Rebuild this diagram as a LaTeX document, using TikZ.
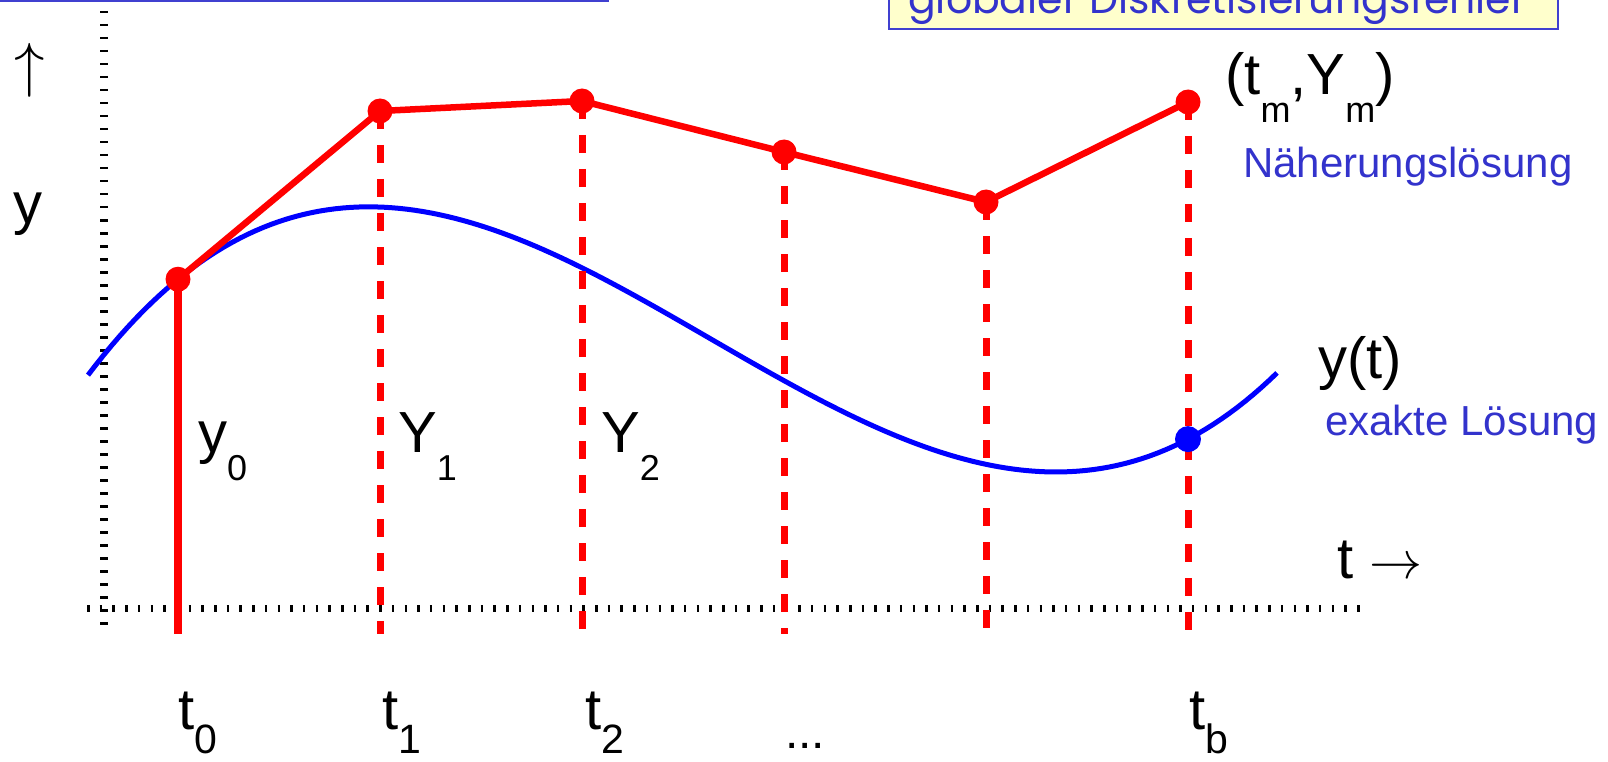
\documentclass[tikz,border=0pt]{standalone}
\usepackage{fontspec}
\setmainfont{Liberation Sans}
\newfontfamily\notefont{Poppins}
\usetikzlibrary{positioning}
\definecolor{ApproxRed}{HTML}{FF0000}
\definecolor{ExactBlue}{HTML}{0000FF}
\definecolor{LabelBlue}{HTML}{3333CC}
\definecolor{NoteFill}{HTML}{FFFFCC}
\definecolor{NoteEdge}{HTML}{4040D0}
\newcommand{\lsub}[1]{\raisebox{-28pt}{\fontsize{36}{36}\selectfont #1}}
\newcommand{\tsub}[1]{\raisebox{-24pt}{\fontsize{41}{41}\selectfont #1}}

\begin{document}
\begin{tikzpicture}[x=1pt,y=-1pt,
  declare function={u(\t)=(\t-364)/100; m(\t)=max(0,(600-\t)/100);
    ex(\t)=205-4.834*(u(\t)*u(\t)*u(\t)/3-3.46*u(\t)*u(\t))+0.337*m(\t)*m(\t);},
  big/.style={inner sep=0pt,anchor=base west,font=\fontsize{58}{60}\selectfont},
  bluelabel/.style={inner sep=0pt,anchor=base west,text=LabelBlue,font=\fontsize{42}{44}\selectfont},
  reddot/.style={circle,fill=ApproxRed,inner sep=0pt,minimum size=25pt},
  bluedot/.style={circle,fill=ExactBlue,inner sep=0pt,minimum size=26pt},
  approx/.style={ApproxRed,line width=6.5pt,line join=round},
  gridline/.style={ApproxRed,line width=7pt,dash pattern=on 18pt off 16pt},
  axisdots/.style={black,line width=7pt,dash pattern=on 2.5pt off 10.2pt}]
\useasboundingbox (0,0) rectangle (1608,762);
\clip (0,0) rectangle (1608,762);

% boxes cut off at the top edge
\draw[NoteEdge,line width=2.5pt] (-10,-40) rectangle (608,1);
\draw[NoteEdge,fill=NoteFill,line width=2.5pt] (889,-40) rectangle (1558,29);
\node[inner sep=0pt,anchor=base west,text=LabelBlue,font=\notefont\fontsize{41}{43}\selectfont] (note) at (908,14) {globaler Diskretisierungsfehler};

% axes
\coordinate (ytop) at (104,11);
\coordinate (ybot) at (104,634);
\draw[axisdots,line width=8pt,dash pattern=on 2.5pt off 10.5pt] (ytop) -- (ybot);
\coordinate (tleft) at (87,608);
\coordinate (tright) at (1368,608);
\draw[axisdots] (tleft) -- (tright);

% exact solution
\draw[ExactBlue,line width=5pt] plot[domain=88:1277,samples=150] (\x,{ex(\x)});

% grid points and approximation
\coordinate (p0) at (178,{ex(178)});
\coordinate (p1) at (380,111);
\coordinate (p2) at (582,101);
\coordinate (p3) at (784,152);
\coordinate (p4) at (986,202);
\coordinate (p5) at (1188,102);
\foreach \i/\xx in {0/178,1/380,2/582,3/784,4/986,5/1188}
  \coordinate (b\i) at (\xx,634);
\draw[ApproxRed,line width=8pt] (p0) -- (b0);
\foreach \i in {1,...,5}
  \draw[gridline] (p\i) -- (b\i);
\draw[approx] (p0) -- (p1) -- (p2) -- (p3) -- (p4) -- (p5);
\foreach \i in {0,...,5}
  \node[reddot] (d\i) at (p\i) {};
\node[bluedot] (yb) at (1188,{ex(1188)}) {};

% labels
\node[inner sep=0pt] (yarrow) at (30,70) {\resizebox*{!}{54pt}{$\uparrow$}};
\node[big] (ylab) at (13,223) {y};
\node[big] (y0) at (198,452) {y\lsub{0}};
\node[big] (Y1) at (398,452) {Y\lsub{1}};
\node[big] (Y2) at (601,452) {Y\lsub{2}};
\node[big] (pm) at (1225,95) {(t\lsub{m},Y\lsub{m})};
\node[bluelabel] (approxlab) at (1243,178) {Näherungslösung};
\node[big] (yt) at (1318,378) {y(t)};
\node[bluelabel] (exactlab) at (1325,435) {exakte Lösung};
\node[big] (tarrow) at (1337,578) {t \resizebox{53pt}{!}{$\rightarrow$}};
\node[big] (t0) at (178,729) {t\tsub{0}};
\node[big] (t1) at (382,729) {t\tsub{1}};
\node[big] (t2) at (585,729) {t\tsub{2}};
\node[big,font=\fontsize{48}{50}\selectfont] (tdots) at (785,748) {...};
\node[big] (tb) at (1189,729) {t\tsub{b}};
\end{tikzpicture}
\end{document}
